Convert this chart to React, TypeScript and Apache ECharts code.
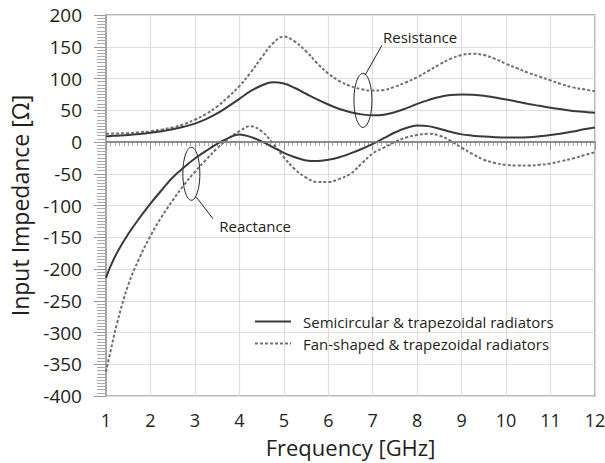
import React, { useEffect, useRef } from "react";
import * as echarts from "echarts";

const freq = [1, 1.1, 1.25, 1.5, 1.75, 2, 2.25, 2.5, 2.75, 3, 3.25, 3.5, 3.75, 4, 4.25, 4.5, 4.75, 5, 5.25, 5.5, 5.75, 6, 6.25, 6.5, 6.75, 7, 7.25, 7.5, 7.75, 8, 8.25, 8.5, 8.75, 9, 9.25, 9.5, 9.75, 10, 10.25, 10.5, 10.75, 11, 11.25, 11.5, 11.75, 12];

const resSemi = [9, 9.5, 10, 11, 12.5, 14.5, 17, 20, 24, 29, 36, 45, 56, 68, 80, 89, 94, 92, 85, 76, 67, 59, 52, 47, 43.5, 42, 43, 47, 53, 60, 66, 71, 74, 75, 74.5, 73, 70, 67, 63.5, 60, 57, 54, 51.5, 49, 47.5, 46];
const resFan = [13, 13.2, 13.5, 14, 15.5, 17, 19.5, 23, 28, 35, 44, 56, 71, 88, 109, 133, 155, 166, 158, 143, 124, 108, 96, 88, 83, 81, 82, 87, 94, 102, 112, 122, 131, 137, 139, 137, 131, 123, 116, 109, 103, 97, 91, 86, 83, 80];
const reacSemi = [-214, -196, -174, -145, -120, -97, -76, -56, -40, -26, -14, -3, 6, 12, 8, 1, -8, -17, -24, -29, -30, -28, -24, -18, -11, -3, 6, 15, 22, 26, 25, 21, 16, 12, 10, 8.5, 7.5, 7, 7, 7.5, 9, 11, 13.5, 16.5, 20, 23];
const reacFan = [-362, -330, -285, -225, -183, -148, -118, -92, -68, -47, -28, -10, 5, 17, 25, 17, -2, -24, -43, -56, -63, -63, -58, -50, -34, -18, -9, 0, 7, 11, 13, 10, 2, -9, -19, -28, -33, -36, -37, -37, -36, -34, -30, -26, -21, -16];

const xTicks = { min: 1, max: 12, interval: 1 };
const yTicks = { min: -400, max: 200, interval: 50 };

const nameSemi = "Semicircular & trapezoidal radiators";
const nameFan = "Fan-shaped & trapezoidal radiators";

const FONT = "'Open Sans', 'Noto Sans', sans-serif";
const TXT = "#231f20";

const pair = (ys: number[]) => freq.map((f, i) => [f, ys[i]]);

export default function App() {
  const ref = useRef<HTMLDivElement>(null);
  useEffect(() => {
    if (!ref.current) return;
    const chart = echarts.init(ref.current, null, { renderer: "svg" });
    const solid = { color: "#3a3a3a", width: 2, type: "solid" as const };
    const dashed = { color: "#707070", width: 2, type: [3, 2] as any };
    const base = {
      type: "line" as const,
      symbol: "none",
      smooth: 0.4,
      silent: true,
    };
    chart.setOption({
      animation: false,
      textStyle: { fontFamily: FONT },
      grid: {
        left: 106,
        right: 10,
        top: 15,
        bottom: 67,
        show: true,
        borderColor: "#a0a0a0",
        borderWidth: 1.5,
        outerBoundsMode: "none",
      },
      legend: {
        orient: "vertical",
        left: 254,
        top: 314,
        padding: 0,
        itemWidth: 36,
        itemHeight: 14,
        itemGap: 7,
        itemStyle: { opacity: 0 },
        data: [nameSemi, nameFan],
        textStyle: { fontSize: 15, color: TXT, fontFamily: FONT, padding: [0, 0, 0, 7] },
      },
      xAxis: {
        type: "value",
        ...xTicks,
        name: "Frequency [GHz]",
        nameLocation: "middle",
        nameGap: 40,
        nameTextStyle: { fontSize: 22, color: TXT, fontFamily: FONT, lineHeight: 22 },
        axisLine: { lineStyle: { color: "#999", width: 1.5 } },
        axisTick: { show: true, length: 8, lineStyle: { color: "#999" } },
        minorTick: { show: true, splitNumber: 10, length: 4, lineStyle: { color: "#aaa" } },
        axisLabel: { fontSize: 18, color: TXT, margin: 15, fontFamily: FONT, lineHeight: 18 },
        splitLine: { show: true, lineStyle: { color: "#dedede", width: 1.2 } },
      },
      yAxis: {
        type: "value",
        ...yTicks,
        name: "Input Impedance [Ω]",
        nameLocation: "middle",
        nameGap: 75,
        nameTextStyle: { fontSize: 23, color: TXT, fontFamily: FONT },
        axisLine: { show: true, lineStyle: { color: "#999", width: 1.5 } },
        axisTick: { show: true, length: 12, lineStyle: { color: "#999" } },
        minorTick: { show: true, splitNumber: 10, length: 9, lineStyle: { color: "#aaa" } },
        axisLabel: { fontSize: 19, color: TXT, margin: 24, fontFamily: FONT },
        splitLine: { show: true, lineStyle: { color: "#dedede", width: 1.2 } },
      },
      series: [
        {
          ...base,
          name: nameSemi,
          data: pair(resSemi),
          lineStyle: solid,
          itemStyle: { color: solid.color },
          z: 4,
          markLine: {
            silent: true,
            symbol: ["none", "none"],
            label: { show: false },
            lineStyle: { color: "#808080", width: 1.5, type: "solid" },
            data: [{ yAxis: 0 }],
          },
        },
        { ...base, name: nameSemi, data: pair(reacSemi), lineStyle: solid, itemStyle: { color: solid.color }, z: 4 },
        { ...base, name: nameFan, data: pair(resFan), lineStyle: dashed, itemStyle: { color: dashed.color }, z: 3 },
        { ...base, name: nameFan, data: pair(reacFan), lineStyle: dashed, itemStyle: { color: dashed.color }, z: 3 },
      ],
    });

    const P = (f: number, v: number) => chart.convertToPixel({ gridIndex: 0 }, [f, v]) as number[];
    const rc = P(6.78, 65.6);
    const xc = P(2.92, -50);
    const ln = { stroke: "#231f20", lineWidth: 1, fill: "none" };
    chart.setOption({
      graphic: [
        { type: "ellipse", shape: { cx: rc[0], cy: rc[1], rx: 9, ry: 27 }, style: ln, silent: true },
        { type: "line", shape: { x1: rc[0] + 2, y1: rc[1] - 25, x2: rc[0] + 19, y2: rc[1] - 55 }, style: ln, silent: true },
        {
          type: "text",
          x: rc[0] + 20,
          y: rc[1] - 63,
          style: { text: "Resistance", fontSize: 15, fontFamily: FONT, fill: TXT, verticalAlign: "middle", align: "left" },
          silent: true,
        },
        { type: "ellipse", shape: { cx: xc[0], cy: xc[1], rx: 8.5, ry: 26.5 }, style: ln, silent: true },
        { type: "line", shape: { x1: xc[0] + 5, y1: xc[1] + 23.4, x2: xc[0] + 21.6, y2: xc[1] + 45 }, style: ln, silent: true },
        {
          type: "text",
          x: xc[0] + 28,
          y: xc[1] + 52,
          style: { text: "Reactance", fontSize: 15, fontFamily: FONT, fill: TXT, verticalAlign: "middle", align: "left" },
          silent: true,
        },
      ],
    });
    return () => chart.dispose();
  }, []);
  return <div ref={ref} style={{ width: 605, height: 463, position: "absolute", left: 0, top: 0 }} />;
}
